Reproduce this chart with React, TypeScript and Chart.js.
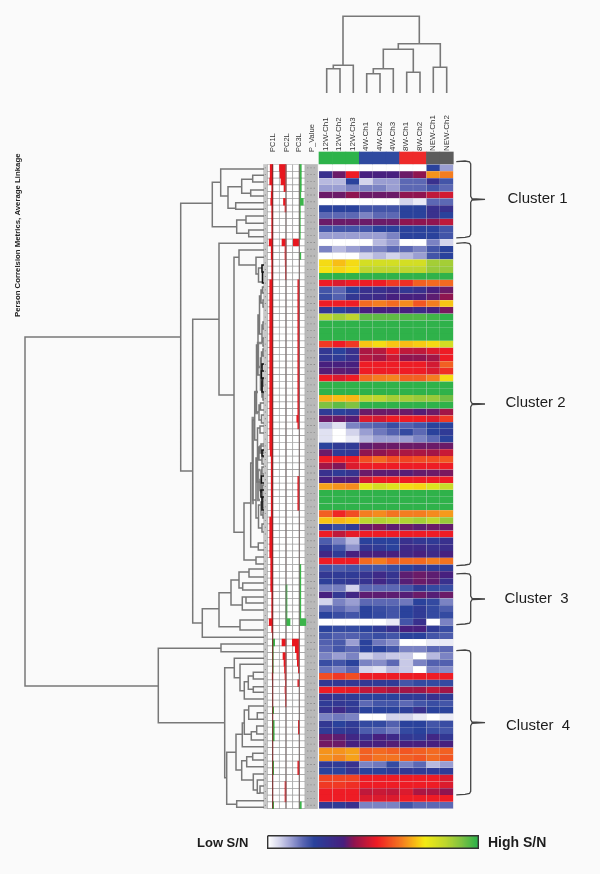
import React, { useEffect, useRef } from "react";
import { Chart, registerables } from "chart.js";

Chart.register(...registerables);

const columnLabels = ["12W-Ch1", "12W-Ch2", "12W-Ch3", "4W-Ch1", "4W-Ch2", "4W-Ch3", "8W-Ch1", "8W-Ch2", "NEW-Ch1", "NEW-Ch2"];
const annotationLabels = ["PC1L", "PC2L", "PC3L", "P_Value"];
const groupColors = ["#2db34a", "#2db34a", "#2db34a", "#2f4aa0", "#2f4aa0", "#2f4aa0", "#ee2a2a", "#ee2a2a", "#5c5c5c", "#5c5c5c"];

// S/N level per row, per column (0 = low, 11 = high)
const cluster1Rows = [
  [0,0,0,0,0,0,0,0,4,2],
  [4.5,5.5,7,5,5,5,5.5,6,8.3,8],
  [1.5,1.5,4,1,2,2,3,3,4.5,3.5],
  [2,2,2.5,2.5,2.5,2,3,3,3.5,3],
  [5.5,5.5,6,5.5,5.5,5.5,6,6,6.5,6.7],
  [0,0,0,0,0,0,1,0.5,3,3],
  [4,4,4,3.5,3.5,3.5,4,4,4.5,4.5],
  [3,3,3,2.5,3,3,4,4,4.5,4],
  [5.5,5.5,5.5,5.5,5.5,5.5,6,6,6,6.5],
  [3.5,3.5,3.5,3.5,4,4,4,4,4,3.5],
  [2,2,2,2,2,2.5,4,4,4,3.5],
];
const cluster2RowsA = [
  [0,0,0,0,1.5,2,0,0,2.5,1],
  [2.5,1.5,2,2.5,2.5,3,3,2.5,3.5,4],
  [0,0,0,1,1.5,1,1.5,2,3.5,4],
  [9.3,8.9,9.3,9.8,9.8,9.8,9.8,9.8,10.2,10.2],
  [9.4,9.2,9.4,10,10,10,10,10,10.3,10.3],
  [11,11,11,11,11,11,11,11,11,11],
  [7,6.8,7,7,7,7.3,7.2,7.7,7.8,7.8],
  [3.5,3,4,4.5,4.5,4.7,4.3,4.5,5,5.5],
  [3.7,3.2,4.3,4.6,4.7,5,5,5,5.3,6],
  [7,7,7,7.8,8,7.8,8.2,7.6,8,9],
  [4.3,4,4.3,5,5,5,5,4.7,5,5.7],
  [10,10.2,10,10.7,10.7,10.7,10.8,10.8,10.9,11],
  [11,11,11,11,11,11,11,11,11,11],
  [11,11,11,11,11,11,11,11,11,11],
  [11,11,11,11,11,11,11,11,11,11],
  [7.3,7,7.3,9,9.3,9,8.9,9.1,9.3,9.8],
  [4.3,4,4.5,6.3,6.4,7,6.5,6.5,6.8,7],
  [4.3,4.2,4.5,6.4,6.2,6.6,6,6,6.2,7],
  [5,5,5,7,7,7,7,7,6.7,7.7],
  [5.2,5.3,5.2,7,7,7,7,7,6.8,7.2],
  [7,6.8,7,7.8,8,8.1,7.7,7.7,8,9.3],
  [11,11,11,11,11,11,11,11,11,11],
  [11,11,11,11,11,11,11,11,11,11],
  [8.7,8.9,8.8,10,10,10.2,10.2,10.3,10.3,10.6],
  [10.5,10.7,10.5,11,11,11,11,11,11,11],
  [4.2,4,4.2,5.5,5.5,5.5,5.5,5.2,5.5,6.2],
  [5.5,5.5,5.2,6.8,6.7,7,7,7,6.8,7.3],
];
const cluster2RowsB = [
  [1.5,0.7,2.5,3,3.2,3.7,3.2,3.5,4,4],
  [0.7,0,1,2,2.7,3.2,3.8,3,4,4.2],
  [0.7,0,0.5,1.5,2,2,2,2.5,3,4],
  [4,4.2,4.2,5.3,5.5,5.5,5.5,5.5,5.5,5.5],
  [5.5,4.2,4.3,6,6,6.2,6.3,6.3,6.2,6.6],
  [7,7,7,7.5,7.8,7.5,7.4,7.5,7.5,7.6],
  [6.2,5.8,6.8,7,7,7,7,7,7,7],
  [4.5,4.2,4.4,5.5,5.3,5.3,5.2,5.4,5.5,5.7],
  [5,5.2,5.2,6.7,7,7,7,7,7,7],
  [8.5,8.3,8.2,9.6,9.8,9.7,9.3,9.2,9.7,9.9],
  [11,11,11,11,11,11,11,11,11,11],
  [11,11,11,11,11,11,11,11,11,11],
  [11,11,11,11,11,11,11,11,11,11],
  [7.7,7.1,7.5,8,8.2,7.9,8,8,8.2,8.4],
  [9,8.8,9,10,10.1,10,10.1,10.2,10,10.3],
  [4.2,3.7,4.2,5.5,5.7,5.3,5.5,5.3,5.5,5.4],
  [7,6.5,6.9,7,7,7,7,7,7,7],
  [3.3,2.5,1.5,4,4,4,4.5,4.3,4.2,4.5],
  [4.2,3.5,2.2,4.3,4.2,4,4.7,4.7,4.5,4.6],
  [4.8,4.2,5,5,5,5,4.8,5,4.7,5],
  [7,7,7,7.8,8,7.7,7.8,7.8,8,7.9],
];
const cluster3Rows = [
  [3.5,3.3,3.5,3.5,3.5,3.7,4,4.3,4.2,4.2],
  [4.3,4.2,4.2,4.4,4.7,4.4,5.3,5.5,5.3,5],
  [4.1,4.2,4.3,4.4,4.8,4.4,5.2,5.5,5.3,4.5],
  [2.6,2.6,1,3,3,3,3.5,4.2,3.8,3.7],
  [5,4.3,4.8,5.3,5.3,5.3,5.2,5.5,5.2,5.5],
  [1,2.5,2,3,3,3,2.7,4,3.8,2.5],
  [3,3,2.5,4,3.7,3.5,4,4.2,3.8,3.3],
  [4,3.7,3.5,4,3.8,3.5,4,4.2,3.8,3.8],
  [0,0,0,0,0,0.5,3.5,4.5,0,2.5],
];
const cluster4Rows = [
  [4,3.8,3.8,4,4.2,4.5,5,5,4.2,3.7],
  [3.5,3.2,3.2,3.5,3.7,3.5,4,4,3.5,3.3],
  [3.2,3.4,2,4,2.7,2.3,0,0,0.5,0.5],
  [3,3.5,3,4,4,3.5,2.5,2.5,3,3],
  [2.5,2,2.5,1,1.5,1.2,1.2,0,1.5,2.5],
  [3.7,3.5,4,2.5,2.3,3,1.2,2.5,3.2,3.2],
  [2.8,2.5,3,1,0.7,1.5,1.2,0,2.5,2.3],
  [7.5,7.3,7.5,7,7,7,7,7,7,7],
  [4.3,4.3,4.3,4.3,4.2,4.2,3.5,3.8,3.8,3.8],
  [7,7,6.9,6.5,6.5,6.3,6.2,6.2,6.5,6.2],
  [4.5,4.3,4.2,4,4,4,4.2,4.2,4.5,4.2],
  [4.2,4.3,4.2,3,3.5,3.5,3,3.5,3.7,3.5],
  [4.4,4.7,4.3,4,4,4,4.1,4.5,4,4],
  [2.5,2.7,2.5,0,0,1,1,0.5,0,0.5],
  [4.3,4,4.2,3.8,3.8,3.2,4,4,3.5,3.7],
  [4.2,4.2,4.3,3.3,3.1,2.7,3.8,4,3.7,3.5],
  [5.5,5.3,4.8,4.5,5,4.7,4.3,4.2,4.8,4.3],
  [5.6,5.5,5,5,5,5.2,5,5,5,5],
  [8.3,8.3,8.5,7.7,7.8,7.7,7.6,7.7,7.8,7.7],
  [8.3,8.1,8.5,7.7,7.9,7.9,7.7,7.6,7.8,7.6],
  [4.3,4.2,4.5,2.5,2.7,3.8,2.5,3,1.5,2],
  [4,4,4.4,4,4,4.2,4.3,4.2,4.2,4.2],
  [7.4,7.4,7.4,7,7,7,7,7,7,6.8],
  [7.3,7.3,7.2,7,7,7,7,7,7,6.8],
  [7,7,7,6.5,6.6,6.5,6.8,6.3,6.3,6],
  [7,7,7,6.8,6.8,6.8,7,7,7,7],
  [4.3,4.2,4.5,2.5,2.5,2.5,3.5,3,3,3],
];
const heatRows = [...cluster1Rows, ...cluster2RowsA, ...cluster2RowsB, ...cluster3Rows, ...cluster4Rows];

// Loadings: positive drawn red to the left, negative drawn green to the right
const pc1 = [2.5,2.5,3,1,1.5,2,1,1,1,1,1,3.5,1.5,1.5,1,1,1,3,3,3,3,3,3,3,3,3,3,3,3,3,3,3,3,3,3,3,3,3,3,3,3,3,2.5,1.5,1.5,1.5,1.5,1.5,1.5,1.5,1.5,1.5,3,3,3,3,3,3,2,2,2,2,2,1,1,1,1,3.5,1,0,-2,-0.5,-0.5,-0.5,-0.5,0.5,0,0,0,0,-1,0,-1.5,-1.5,-1.5,0,0,0,-1,-1,0,0,0,0,-1];
const pc2 = [6.5,6,5,2,0,2.5,1,0,0,0,0,4,1,1,0.8,0.6,0.5,0,0,0,0,0,0,0,0,0,0,0,0,0,0,0,0,0,0,0,0,0,0,0,0,0,0,0,0,0,0,0,0,0,0,0,0,0,0,0,0,0,0,0,0,0,-1,-1,-1,-1,-1,-4,0,0,4,0,3,2,1.5,1,0.7,1,0.7,0.5,0,0,0,0,0,0,0,0,0,0,0,1,1,1,0];
const pc3 = [-2,-2,-2,-2,-1.5,-4,-1,-1,-1,-1,-1,6,0,-1.5,0,0,0,1.5,1.5,1.5,1.5,1.5,1.5,1.5,1.5,1.5,1.5,1.5,1.5,1.5,1.5,1.5,1.5,1.5,1.5,1.5,1.5,2.5,1.5,0,0,0,0,0,0,0,1.5,1.5,1.5,1.5,1.5,0,0,0,0,0,0,0,0,-1.5,-1.5,-1.5,-1.5,-1.5,-1.5,-1.5,-1.5,-6.5,0,0,7,4,2.5,2,1,0,1.5,0,0,0,0,0,1,1,0,0,0,0,1.5,1.5,0,0,0,0,-2];

// Tree merges: [height, top branch, bottom branch, top child height, bottom child height]
const rowTree = [
  [25,337,686,180.7,158.3],
  [180.7,203.3,471,212.3,192.7],
  [212.3,182.3,226.7,220.7,236.7],
  [220.7,169,196,264,228],
  [228,186.7,208.3,241.7,235.7],
  [241.7,179.3,193.3,252.7,250.7],
  [252.7,175.3,182,264,264],
  [250.7,190,196,264,264],
  [235.7,202.7,209.3,264,264],
  [236.7,220,233.3,246,248.7],
  [246,216,223.3,264,264],
  [248.7,230,236.7,264,264],
  [192.7,319.3,623,219,202.3],
  [219,243.3,395,264,234],
  [234,257.3,532.3,239,244],
  [239,250,265,264,256],
  [256,257.3,274,264,258.5],
  [258.5,268,282,262,262],
  [244,503,560,250.7,256],
  [256,557,564,264,264],
  [250.7,463,547,252.7,258.3],
  [258.3,543,550,264,264],
  [252.7,420,500,254.7,256],
  [254.7,392,440,256.5,257.5],
  [256.5,345,412,258,259],
  [258,315,375,259.5,260.5],
  [259.5,296,334,261,262],
  [261,290,303,262.5,263],
  [262.5,287,293,264,264],
  [263,300,307,264,264],
  [262,325,342,263,263],
  [263,322,329,264,264],
  [263,338,346,264,264],
  [260.5,358,390,261.5,262],
  [261.5,352,365,263,262.5],
  [263,349,356,264,264],
  [262,382,397,263,263],
  [263,379,386,264,264],
  [263,393,400,264,264],
  [259,405,420,260.5,261.5],
  [260.5,403,410,264,264],
  [261.5,415,423,264,264],
  [257.5,428,452,260,260],
  [260,426,433,264,264],
  [260,446,453,264,264],
  [256,458,518,257.5,258.5],
  [257.5,450,482,259,261],
  [259,447,460,261,262],
  [261,444,451,264,264],
  [262,457,464,264,264],
  [261,470,492,262,262.5],
  [262,467,474,264,264],
  [262.5,485,499,264,264],
  [258.5,505,528,261,262],
  [261,502,515,263,263],
  [263,501,508,264,264],
  [263,512,518,264,264],
  [262,524,532,264,264],
  [202.3,608.7,637.3,219,264],
  [219,592.7,626.7,231,240],
  [240,620,630,264,264],
  [231,580,605,239,242.3],
  [239,572,588,249,242.7],
  [249,569,577,264,264],
  [242.7,583,590,264,264],
  [242.3,597,610,246,264],
  [246,597,603,264,264],
  [158.3,648.3,722.7,221,224.7],
  [221,644,651.7,264,264],
  [224.7,667.7,777.7,234.3,226.7],
  [234.3,658.3,677.7,264,240],
  [240,664.3,690.7,264,244.3],
  [244.3,681.7,699,248.3,264],
  [248.3,676,689.3,253.3,253.3],
  [253.3,672.3,679,264,264],
  [253.3,686.7,692.3,264,264],
  [226.7,752.3,804.3,236,236.7],
  [236,734.3,770,242.3,241.7],
  [242.3,723,746.7,244.3,264],
  [244.3,710,734.3,248.7,251.3],
  [248.7,706,719.3,264,257.3],
  [257.3,712.7,719.3,264,264],
  [251.3,731.7,740,256.7,264],
  [256.7,726,734,264,264],
  [241.7,760.7,780,246.7,253.3],
  [246.7,756.7,766.7,252.7,264],
  [252.7,753.3,760,264,264],
  [253.3,774,790,264,257.3],
  [257.3,780,793.3,264,260],
  [260,786,793,264,264],
  [236.7,800.7,807.3,264,264],
];
const rowTreeTight = [
  [262,265,272,264,264],
  [262.5,272,283,264,264],
  [262,364,371,264,264],
  [261.5,371,378,264,264],
  [262,378,392,264,264],
  [262,450,456,264,264],
  [261.5,476,483,264,264],
  [261,490,497,264,264],
  [262,497,510,264,264],
];
const rowTreeBand = [
  [258,343,367,262,262],
  [255.5,392,413,258,258],
  [252.7,418,503,254,254],
  [258,470,500,260,260],
  [260,480,490,262,262],
];
const columnTree = [
  [16.3,343,419.3,65.3,43.7],
  [65.3,333.3,353.3,68.7,93],
  [68.7,326.7,340,93,93],
  [43.7,398.3,440.3,49.3,67.3],
  [49.3,383.3,413.3,68.7,72.3],
  [68.7,373.3,393.3,73.7,93],
  [73.7,366.7,380,93,93],
  [72.3,406.7,420,93,93],
  [67.3,433.3,446.7,93,93],
];

const clusterNames = ["Cluster 1", "Cluster 2", "Cluster  3", "Cluster  4"];
const clusterSpans = [[161,237.3,199.3],[242.7,565,404],[573.3,624,599],[650,794.3,722.7]];

const legendFractions = [0,0.22,0.36,0.41,0.52,0.64,0.75,0.85,1];
const legendLevels = [0,4,5,6,7,8,9.5,10,11];

// Colour ramp
const rampLevels = [0,1,2,3,4,5,6,7,8,9,9.5,10,10.5,11];
const rampColors = ["#ffffff","#d3d4ec","#9a9ed2","#5c68b4","#2a429c","#47207f","#8f1550","#ee1c25","#f47d20","#f8c514","#f3ea14","#bdd62f","#7fc241","#2fb24a"];

const hex = (c: string) => [1, 3, 5].map((i) => parseInt(c.slice(i, i + 2), 16));
function rampColor(v: number) {
  let i = 0;
  while (i < rampLevels.length - 2 && v > rampLevels[i + 1]) i++;
  const t = Math.min(1, Math.max(0, (v - rampLevels[i]) / (rampLevels[i + 1] - rampLevels[i])));
  const a = hex(rampColors[i]);
  const b = hex(rampColors[i + 1]);
  return `rgb(${a.map((x, k) => Math.round(x + (b[k] - x) * t)).join(",")})`;
}
function legendLevel(f: number) {
  let i = 0;
  while (i < legendFractions.length - 2 && f > legendFractions[i + 1]) i++;
  const t = (f - legendFractions[i]) / (legendFractions[i + 1] - legendFractions[i]);
  return legendLevels[i] + (legendLevels[i + 1] - legendLevels[i]) * t;
}

// Layout
const ROW_TOP = 164.5;
const ROW_H = 6.78;
const COL_LEFT = 319;
const COL_W = 13.43;
const rowMid = (i: number) => ROW_TOP + ROW_H * (i + 0.5);
const PC_LINES = [267.3, 272.7, 279.3, 286, 292.7, 299.3, 305];
const PC_BASE = [272.7, 286, 299.3];
const BRANCH = "#787878";

function rowLinks(links: number[][]) {
  const out: { x: number; y: number }[] = [];
  links.forEach(([h, a, b, ca, cb]) => {
    out.push({ x: ca, y: a }, { x: h, y: a }, { x: h, y: b }, { x: cb, y: b }, { x: NaN, y: NaN });
  });
  return out;
}
function colLinks(links: number[][]) {
  const out: { x: number; y: number }[] = [];
  links.forEach(([h, a, b, ca, cb]) => {
    out.push({ x: a, y: ca }, { x: a, y: h }, { x: b, y: h }, { x: b, y: cb }, { x: NaN, y: NaN });
  });
  return out;
}
function bracePoints() {
  const out: { x: number; y: number }[] = [];
  clusterSpans.forEach(([a, b, m]) => {
    out.push(
      { x: 456.3, y: a + 0.6 }, { x: 465, y: a }, { x: 469.5, y: a + 0.8 }, { x: 470.7, y: a + 3 },
      { x: 470.7, y: m - 3 }, { x: 472, y: m - 0.7 }, { x: 485, y: m }, { x: 472, y: m + 0.7 }, { x: 470.7, y: m + 3 },
      { x: 470.7, y: b - 3 }, { x: 469.5, y: b - 0.8 }, { x: 465, y: b }, { x: 456.3, y: b + 0.6 }, { x: NaN, y: NaN },
    );
  });
  return out;
}

const textPlugin = {
  id: "chartText",
  afterDraw(chart: any) {
    const { ctx, scales } = chart;
    const X = (v: number) => scales.x.getPixelForValue(v);
    const Y = (v: number) => scales.y.getPixelForValue(v);
    const vertical = (s: string, x: number, y: number, font: string, color: string) => {
      ctx.save();
      ctx.translate(X(x), Y(y));
      ctx.rotate(-Math.PI / 2);
      ctx.font = font;
      ctx.fillStyle = color;
      ctx.textAlign = "left";
      ctx.textBaseline = "middle";
      ctx.fillText(s, 0, 0);
      ctx.restore();
    };
    columnLabels.forEach((s, i) => vertical(s, COL_LEFT + COL_W * (i + 0.5), 151, "8px 'Liberation Sans'", "#333"));
    [272.7, 286.7, 299, 311.7].forEach((x, i) => vertical(annotationLabels[i], x, 152, "7.5px 'Liberation Sans'", "#333"));
    vertical("Person Correlsion Metrics, Average Linkage", 18, 317, "bold 7.8px 'Liberation Sans'", "#222");
    ctx.save();
    ctx.textBaseline = "middle";
    ctx.textAlign = "left";
    ctx.fillStyle = "#1c1c1c";
    ctx.font = "15px 'Liberation Sans'";
    clusterNames.forEach((s, i) => {
      ctx.fillText(s, X([507.5, 505.5, 504.5, 506][i]), Y([199, 403, 599, 726][i]));
    });
    ctx.font = "bold 13px 'Liberation Sans'";
    ctx.fillText("Low S/N", X(197), Y(843));
    ctx.font = "bold 14px 'Liberation Sans'";
    ctx.fillText("High S/N", X(488), Y(843));
    ctx.restore();
  },
};

export default function App() {
  const ref = useRef<HTMLCanvasElement | null>(null);
  useEffect(() => {
    document.body.style.margin = "0";
    document.body.style.background = "#fafafa";
    const heat: any[] = [];
    heatRows.forEach((row, r) =>
      row.forEach((v, c) => heat.push({ x: [COL_LEFT + COL_W * c, COL_LEFT + COL_W * (c + 1)], y: rowMid(r), v })),
    );
    const header = columnLabels.map((_, c) => ({ x: [COL_LEFT + COL_W * c, COL_LEFT + COL_W * (c + 1)], y: 158, c: groupColors[c] }));
    const grid: any[] = [];
    heatRows.forEach((_, r) => {
      for (let k = 0; k < PC_LINES.length - 1; k++) grid.push({ x: [PC_LINES[k], PC_LINES[k + 1]], y: rowMid(r) });
    });
    const redBars: any[] = [];
    const greenBars: any[] = [];
    [pc1, pc2, pc3].forEach((arr, k) =>
      arr.forEach((v, r) => {
        if (v > 0) redBars.push({ x: [PC_BASE[k] - v, PC_BASE[k]], y: rowMid(r) });
        if (v < 0) greenBars.push({ x: [PC_BASE[k], PC_BASE[k] - v], y: rowMid(r) });
      }),
    );
    const pStrip = heatRows.map((_, r) => ({ x: [305, 317.5], y: rowMid(r) }));
    const leftStrip = heatRows.map((_, r) => ({ x: [263.5, 267.3], y: rowMid(r) }));
    const dots: any[] = [];
    heatRows.forEach((_, r) => {
      [307.8, 311, 314.2].forEach((x) => dots.push({ x, y: rowMid(r) }));
      dots.push({ x: 265.3, y: rowMid(r) });
    });
    const legendCells: any[] = [];
    for (let i = 0; i < 210; i++) {
      legendCells.push({ x: [268 + i, 269 + i], y: 842, v: legendLevel(i / 209) });
    }
    const common = { stack: "s", type: "bar" as const, borderSkipped: false, indexAxis: "y" as const };
    const chart = new Chart(ref.current as HTMLCanvasElement, {
      type: "bar",
      data: {
        datasets: [
          { ...common, label: "grid", order: 20, data: grid, barThickness: ROW_H, backgroundColor: "#ffffff", borderColor: "#a0a0a0", borderWidth: 0.7 },
          { ...common, label: "pstrip", order: 20, data: pStrip, barThickness: ROW_H, backgroundColor: "#b9b9b9", borderWidth: 0 },
          { ...common, label: "leftstrip", order: 20, data: leftStrip, barThickness: ROW_H, backgroundColor: "#c8c8c8", borderWidth: 0 },
          { ...common, label: "heat", order: 20, data: heat, barThickness: ROW_H, backgroundColor: (c: any) => rampColor(c.raw.v), borderColor: "rgba(120,120,120,0.12)", borderWidth: 0.4 },
          { ...common, label: "header", order: 20, data: header, barThickness: 12, backgroundColor: (c: any) => c.raw.c, borderWidth: 0 },
          { ...common, label: "legend", order: 20, data: legendCells, barThickness: 12.4, backgroundColor: (c: any) => rampColor(c.raw.v), borderWidth: 0 },
          { ...common, label: "red", order: 10, data: redBars, barThickness: ROW_H, backgroundColor: "#e8171f", borderWidth: 0 },
          { ...common, label: "green", order: 10, data: greenBars, barThickness: ROW_H, backgroundColor: "#3bb54a", borderWidth: 0 },
          ...PC_BASE.map((x, i) => ({
            type: "scatter" as const, label: "base" + i, order: 5, showLine: true, pointRadius: 0,
            borderColor: i === 0 ? "#7a2a2a" : "#7d6f6f", borderWidth: 1.1,
            data: [{ x, y: ROW_TOP }, { x, y: ROW_TOP + ROW_H * heatRows.length }],
          })),
          { type: "scatter" as const, label: "dots", order: 4, showLine: false, pointStyle: "rect", pointRadius: 0.6, pointBackgroundColor: "#6f6f6f", pointBorderWidth: 0, data: dots },
          { type: "scatter" as const, label: "rowTree", order: 3, showLine: true, pointRadius: 0, borderColor: BRANCH, borderWidth: 1.5, data: rowLinks(rowTree) },
          { type: "scatter" as const, label: "rowBand", order: 3, showLine: true, pointRadius: 0, borderColor: "#8a8a8a", borderWidth: 2.4, data: rowLinks(rowTreeBand) },
          { type: "scatter" as const, label: "rowTight", order: 2, showLine: true, pointRadius: 0, borderColor: "#111", borderWidth: 1.6, data: rowLinks(rowTreeTight) },
          { type: "scatter" as const, label: "columnTree", order: 3, showLine: true, pointRadius: 0, borderColor: BRANCH, borderWidth: 1.6, data: colLinks(columnTree) },
          { type: "scatter" as const, label: "braces", order: 3, showLine: true, pointRadius: 0, borderColor: "#444", borderWidth: 1.3, data: bracePoints() },
          {
            type: "scatter" as const, label: "legendFrame", order: 1, showLine: true, pointRadius: 0, borderColor: "#333", borderWidth: 1.4,
            data: [{ x: 267.7, y: 835.8 }, { x: 478.3, y: 835.8 }, { x: 478.3, y: 848.2 }, { x: 267.7, y: 848.2 }, { x: 267.7, y: 835.8 }],
          },
        ] as any,
      },
      options: {
        indexAxis: "y",
        animation: false,
        responsive: false,
        maintainAspectRatio: false,
        layout: { padding: 0, autoPadding: false },
        plugins: { legend: { display: false }, tooltip: { enabled: false } },
        events: [],
        scales: {
          x: { type: "linear", min: 0, max: 600, display: false, offset: false, stacked: false, grid: { display: false } },
          y: { type: "linear", min: 0, max: 874, reverse: true, display: false, offset: false, grid: { display: false } },
        },
      } as any,
      plugins: [textPlugin],
    });
    return () => chart.destroy();
  }, []);
  return <canvas ref={ref} width={600} height={874} style={{ display: "block", width: 600, height: 874 }} />;
}
